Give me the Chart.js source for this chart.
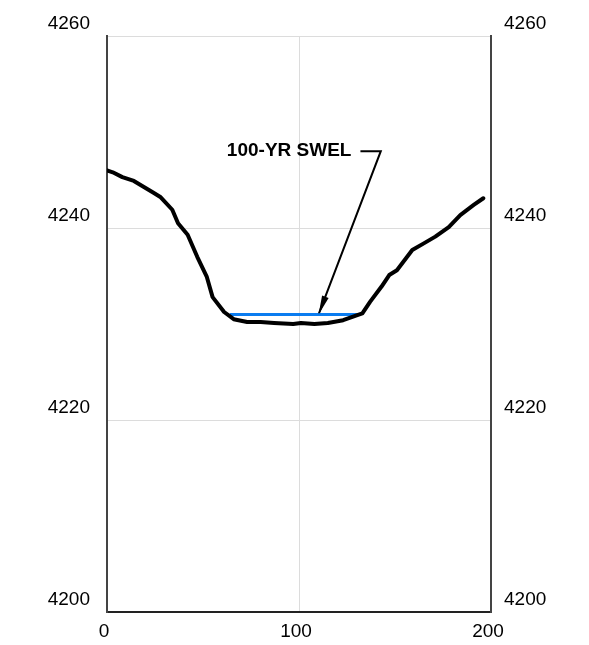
<!DOCTYPE html>
<html>
<head>
<meta charset="utf-8">
<script src="https://cdn.jsdelivr.net/npm/chart.js@4/dist/chart.umd.min.js"></script>
<style>
  html, body { margin: 0; padding: 0; background: #fff; }
  #wrap { width: 589px; height: 645px; }
</style>
</head>
<body>
<div id="wrap"><canvas id="xsec" width="589" height="645"></canvas></div>
<script>
// Ground profile (station vs elevation)
const stationX = [0, 3, 8, 14, 19, 24, 28, 34, 37, 42, 47, 52, 55, 61, 66, 73, 80, 87, 97, 101, 108, 115, 123, 130, 133, 137, 143, 147, 151, 159, 165, 171, 178, 184, 191, 196];
const elevation = [4246.0, 4245.8, 4245.3, 4244.9, 4244.3, 4243.7, 4243.2, 4241.9, 4240.5, 4239.3, 4237.0, 4234.9, 4232.8, 4231.25, 4230.5, 4230.2, 4230.2, 4230.1, 4230.0, 4230.1, 4230.0, 4230.1, 4230.4, 4230.9, 4231.1, 4232.3, 4233.9, 4235.1, 4235.6, 4237.7, 4238.4, 4239.1, 4240.1, 4241.35, 4242.4, 4243.1];

// 100-yr still water elevation line
const swelX = [64, 131];
const swelY = [4231, 4231];

// Leader line for the label: start, corner, arrow tip
const leaderX = [132, 142.6, 110.2];
const leaderY = [4248, 4248, 4231];
const swelLabel = '100-YR SWEL';

// Axes
const xTicks = [0, 100, 200];
const yTicks = [4200, 4220, 4240, 4260];

const FONT = "'Liberation Sans', Arial, Helvetica, sans-serif";

const toPoints = (xs, ys) => xs.map((x, i) => ({ x, y: ys[i] }));
const plainLabel = (v) => String(v);

// arrow head + label text
const leaderPlugin = {
    id: 'leader',
    afterDatasetsDraw(chart) {
        const { ctx, scales } = chart;
        const xs = scales.x, ys = scales.y;
        const n = leaderX.length;
        const tx = xs.getPixelForValue(leaderX[n - 1]);
        const ty = ys.getPixelForValue(leaderY[n - 1]);
        const cx = xs.getPixelForValue(leaderX[n - 2]);
        const cy = ys.getPixelForValue(leaderY[n - 2]);
        const ang = Math.atan2(ty - cy, tx - cx);
        const len = 19, half = 3.5;

        ctx.save();
        ctx.fillStyle = '#000';
        ctx.beginPath();
        ctx.moveTo(tx, ty);
        ctx.lineTo(tx - len * Math.cos(ang) + half * Math.sin(ang), ty - len * Math.sin(ang) - half * Math.cos(ang));
        ctx.lineTo(tx - len * Math.cos(ang) - half * Math.sin(ang), ty - len * Math.sin(ang) + half * Math.cos(ang));
        ctx.closePath();
        ctx.fill();

        const sx = xs.getPixelForValue(leaderX[0]);
        const sy = ys.getPixelForValue(leaderY[0]);
        ctx.font = 'bold 19px ' + FONT;
        ctx.textAlign = 'right';
        ctx.textBaseline = 'middle';
        ctx.fillText(swelLabel, sx - 9, sy);
        ctx.restore();
    }
};

new Chart(document.getElementById('xsec'), {
    type: 'line',
    data: {
        datasets: [
            {
                label: 'Ground',
                data: toPoints(stationX, elevation),
                borderColor: '#000',
                borderWidth: 4,
                pointRadius: 0,
                tension: 0,
                borderJoinStyle: 'round',
                borderCapStyle: 'round'
            },
            {
                label: '100-yr SWEL',
                data: toPoints(swelX, swelY),
                borderColor: '#0a7cf0',
                borderWidth: 3,
                pointRadius: 0
            },
            {
                label: 'Leader',
                data: toPoints(leaderX, leaderY),
                borderColor: '#000',
                borderWidth: 2,
                pointRadius: 0,
                tension: 0
            }
        ]
    },
    options: {
        responsive: false,
        animation: false,
        layout: { padding: { top: 36, left: 0, right: 0, bottom: 0 } },
        plugins: {
            legend: { display: false },
            tooltip: { enabled: false }
        },
        scales: {
            x: {
                type: 'linear',
                min: 0,
                max: 200,
                afterBuildTicks: (s) => { s.ticks = xTicks.map(v => ({ value: v })); },
                afterFit: (s) => { s.height = 33; },
                grid: {
                    drawTicks: false,
                    color: (c) => (c.tick && c.tick.value === 100) ? '#dcdcdc' : 'rgba(0,0,0,0)'
                },
                border: { display: true, color: '#222', width: 2 },
                ticks: {
                    padding: 8,
                    labelOffset: -3,
                    color: '#000',
                    callback: plainLabel,
                    font: { family: FONT, size: 19 }
                }
            },
            y: {
                type: 'linear',
                position: 'left',
                min: 4200,
                max: 4260,
                afterBuildTicks: (s) => { s.ticks = yTicks.map(v => ({ value: v })); },
                afterFit: (s) => { s.width = 107; },
                grid: {
                    drawTicks: false,
                    color: (c) => (c.tick && c.tick.value === 4200) ? 'rgba(0,0,0,0)' : '#dcdcdc'
                },
                border: { display: true, color: '#444', width: 2 },
                ticks: {
                    padding: 17,
                    labelOffset: -12,
                    color: '#000',
                    callback: plainLabel,
                    font: { family: FONT, size: 19 }
                }
            },
            y2: {
                type: 'linear',
                position: 'right',
                min: 4200,
                max: 4260,
                afterBuildTicks: (s) => { s.ticks = yTicks.map(v => ({ value: v })); },
                afterFit: (s) => { s.width = 98; },
                grid: { display: false, drawTicks: false },
                border: { display: true, color: '#444', width: 2 },
                ticks: {
                    padding: 13,
                    labelOffset: -12,
                    color: '#000',
                    callback: plainLabel,
                    font: { family: FONT, size: 19 }
                }
            }
        }
    },
    plugins: [leaderPlugin]
});
</script>
</body>
</html>
